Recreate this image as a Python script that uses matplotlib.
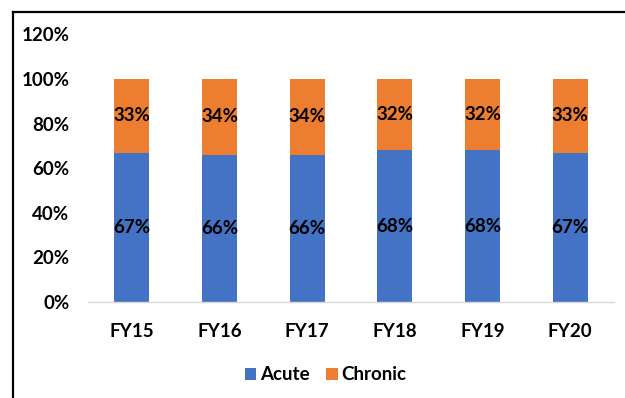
import matplotlib.pyplot as plt
from matplotlib.lines import Line2D
from matplotlib.ticker import PercentFormatter

plt.rcParams['font.family'] = ['Lato', 'DejaVu Sans']

years = ['FY15', 'FY16', 'FY17', 'FY18', 'FY19', 'FY20']
acute = [67, 66, 66, 68, 68, 67]
chronic = [33, 34, 34, 32, 32, 33]

blue = '#4472C4'
orange = '#ED7D31'

fig = plt.figure(figsize=(6.25, 3.98), dpi=100)
ax = fig.add_axes([0.1408, 0.2412, 0.8416, 0.6724])

x = range(len(years))
b1 = ax.bar(x, acute, width=0.4, color=blue, label='Acute')
b2 = ax.bar(x, chronic, width=0.4, bottom=acute, color=orange, label='Chronic')

for bars, vals in ((b1, acute), (b2, chronic)):
    ax.bar_label(bars, labels=[f'{v}%' for v in vals], label_type='center',
                 fontsize=13.5, fontweight='bold', color='black')

ax.set_xlim(-0.5, len(years) - 0.5)
ax.set_ylim(0, 120)
ax.set_yticks(range(0, 121, 20))
ax.yaxis.set_major_formatter(PercentFormatter(decimals=0))
ax.set_xticks(list(x))
ax.set_xticklabels(years)

for s in ('top', 'right', 'left'):
    ax.spines[s].set_visible(False)
ax.spines['bottom'].set_color('#D9D9D9')
ax.spines['bottom'].set_linewidth(1)
ax.tick_params(axis='both', length=0, labelsize=13.5, colors='black')
ax.tick_params(axis='x', pad=15)
ax.tick_params(axis='y', pad=13.5)
for lbl in ax.get_xticklabels() + ax.get_yticklabels():
    lbl.set_fontweight('bold')

leg = fig.legend(loc='center', bbox_to_anchor=(0.521, 0.058), ncol=2, frameon=False,
                 handlelength=0.6, handleheight=0.6, handletextpad=0.2,
                 columnspacing=0.9, prop={'size': 13.5, 'weight': 'bold'})

# outer frame: top and left edges only
fig.add_artist(Line2D([13 / 625, 1.0], [1 - 12 / 398, 1 - 12 / 398],
                      transform=fig.transFigure, color='black', linewidth=1.6))
fig.add_artist(Line2D([13 / 625, 13 / 625], [0.0, 1 - 12 / 398],
                      transform=fig.transFigure, color='black', linewidth=1.6))

fig.savefig('out.png', dpi=100)
